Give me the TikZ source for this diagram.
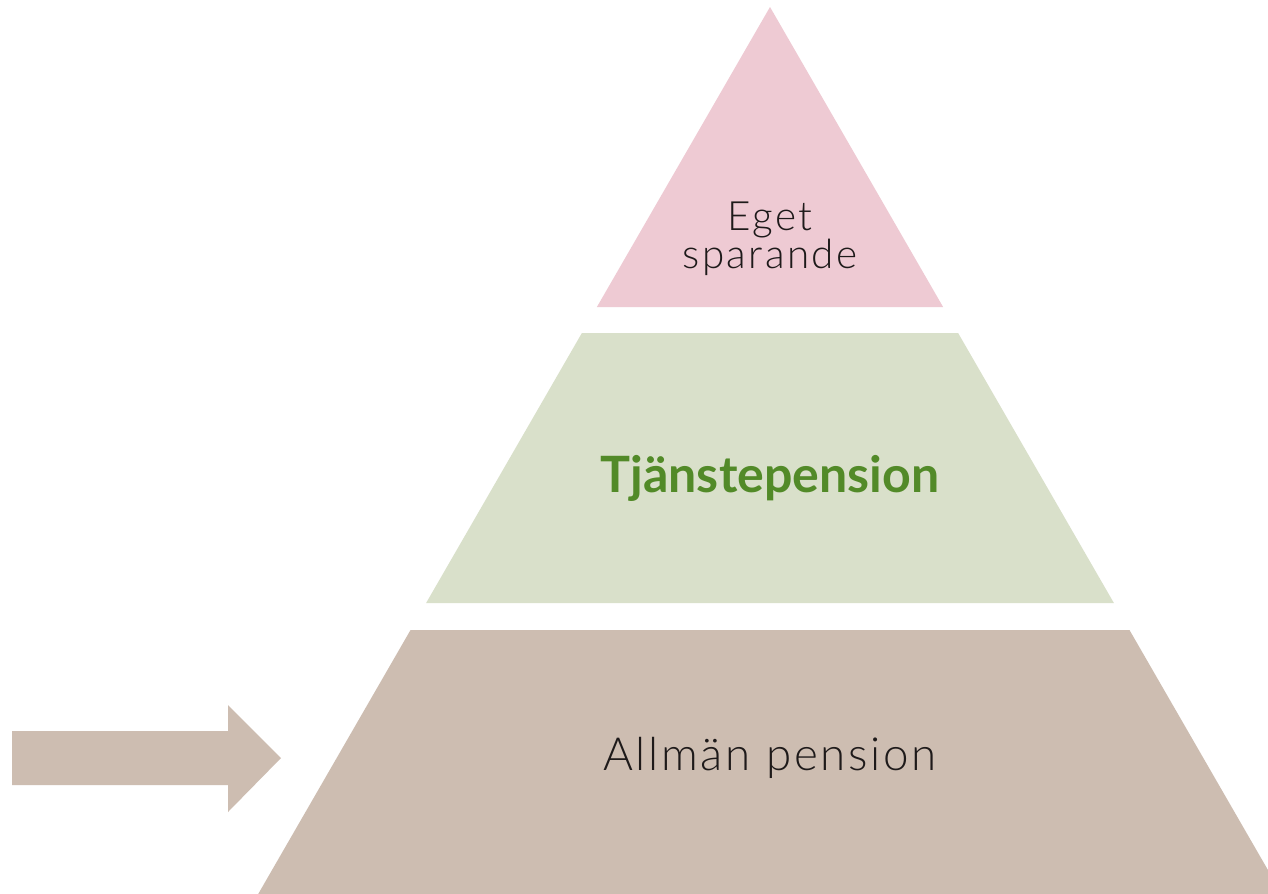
\documentclass[tikz,border=0pt]{standalone}
\usepackage{fontspec}
\setmainfont{Lato}
\newfontfamily\tunn[LetterSpace=6]{Lato Light}
\definecolor{rosa}{HTML}{EECAD3}
\definecolor{gron}{HTML}{D9E0CA}
\definecolor{brun}{HTML}{CDBDB1}
\definecolor{grontext}{HTML}{528A28}
\definecolor{svart}{HTML}{1E1A1A}
\begin{document}
\begin{tikzpicture}[x=0.02cm, y=-0.02cm, line join=round, line cap=round]
	\def\tx{770} % Toppens x
	\def\ty{7} % Toppens y
	\def\k{0.577} % Lutning
	\useasboundingbox (0,0) rectangle (1268,893);
	\clip (0,0) rectangle (1268,893);
	\fill[white] (0,0) rectangle (1268,893);
	% Nivåer i pyramiden
	\foreach \ya/\yb/\farg in {7/307/rosa, 333/603/gron, 630/900/brun}
		\fill[\farg] ({\tx-\k*(\ya-\ty)},\ya) -- ({\tx+\k*(\ya-\ty)},\ya) -- ({\tx+\k*(\yb-\ty)},\yb) -- ({\tx-\k*(\yb-\ty)},\yb) -- cycle;
	% Pilen
	\coordinate (P1) at (12,731);
	\coordinate (P2) at (228,731);
	\coordinate (P3) at (228,705);
	\coordinate (spets) at (281,758);
	\coordinate (P4) at (228,812);
	\coordinate (P5) at (228,785);
	\coordinate (P6) at (12,785);
	\fill[brun] (P1)--(P2)--(P3)--(spets)--(P4)--(P5)--(P6)--cycle;
	% Texter
	\node[align=center, anchor=base, text=svart, font=\tunn\fontsize{23}{21.5}\selectfont] (eget) at (770,268) {Eget\\sparande};
	\node[anchor=base, text=grontext, font=\fontsize{28.5}{30}\selectfont\bfseries] (tjanst) at (770,492) {Tjänstepension};
	\node[anchor=base, text=svart, font=\tunn\fontsize{26}{28}\selectfont] (allman) at (770,770) {Allmän pension};
\end{tikzpicture}
\end{document}
